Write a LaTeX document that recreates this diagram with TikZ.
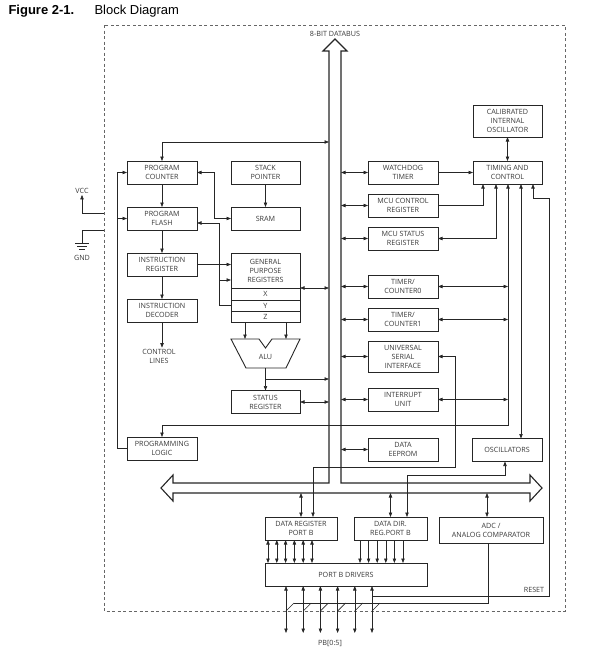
\documentclass[tikz,border=0pt]{standalone}
\usepackage{fontspec}
\setmainfont{Liberation Sans}
\newfontfamily\blkfont{Open Sans}
\usepackage{tikz}
\usetikzlibrary{
  arrows.meta,
  positioning,
  calc
}
\definecolor{inkline}{HTML}{262626}
\definecolor{inktext}{HTML}{3A3A3A}
\definecolor{edgegrey}{HTML}{666666}
\tikzset{
  blk/.style={
    rectangle, draw=inkline, line width=0.9pt, fill=white,
    minimum width=#1, minimum height=23pt, align=center,
    font=\blkfont\fontsize{7.2}{9}\selectfont, text=inktext,
    inner sep=1pt, outer sep=0pt
  },
  blk/.default=70pt,
  lbl/.style={
    font=\blkfont\fontsize{7.2}{9}\selectfont, text=inktext,
    align=center, inner sep=1pt
  },
  wire/.style={draw=inkline, line width=0.6pt},
  onehead/.style={wire, -{Triangle[length=4.5pt,width=3.4pt]}},
  twohead/.style={wire, {Triangle[length=4.5pt,width=3.4pt]}-{Triangle[length=4.5pt,width=3.4pt]}},
  busline/.style={draw=inkline, line width=1.1pt, fill=white, line join=miter},
  chipedge/.style={draw=edgegrey, line width=0.6pt, dash pattern=on 3pt off 2.5pt},
}

\begin{document}
\begin{tikzpicture}[x=1pt, y=-1pt, node distance=23pt]
  \useasboundingbox (0,0) rectangle (591,657);

  %% ── Title ─────────────────────────────────────────────────────────────────
  \node[anchor=base west, font=\fontsize{13}{15}\selectfont\bfseries] (figno) at (5,14) {Figure 2-1.};
  \node[anchor=base west, font=\fontsize{13}{15}\selectfont] (figtitle) at (91,14) {Block Diagram};

  %% ── Chip outline and data bus ─────────────────────────────────────────────
  \draw[chipedge] (104,25) rectangle (565,611);
  \coordinate (busL) at (329,60);
  \coordinate (busR) at (341,60);
  \coordinate (busB) at (300,493);
  \draw[busline] (335,39) -- (347,51) -- (341,51) -- (341,483) -- (530,483) -- (530,475)
    -- (542,488) -- (530,501) -- (530,493) -- (173,493) -- (173,501) -- (161,488)
    -- (173,475) -- (173,483) -- (329,483) -- (329,51) -- (323,51) -- cycle;
  \node[lbl] (buslbl) at (335,34) {8-BIT DATABUS};

  %% ── Program path ──────────────────────────────────────────────────────────
  \node[blk] (pc) at (162,172.5) {PROGRAM\\COUNTER};
  \node[blk, below=of pc]    (flash) {PROGRAM\\FLASH};
  \node[blk, below=of flash] (ireg)  {INSTRUCTION\\REGISTER};
  \node[blk, below=of ireg]  (idec)  {INSTRUCTION\\DECODER};
  \node[lbl] (ctrl) at (159,356) {CONTROL\\LINES};
  \node[blk] (proglog) at (162,448.5) {PROGRAMMING\\LOGIC};

  %% ── Registers and ALU ─────────────────────────────────────────────────────
  \node[blk=69pt] (sp) at (265.5,172.5) {STACK\\POINTER};
  \node[blk=69pt, below=of sp] (sram) {SRAM};
  \node[blk=69pt, minimum height=35pt, below=of sram] (gpr) {GENERAL\\PURPOSE\\REGISTERS};
  \node[blk=69pt, minimum height=12pt, below=0pt of gpr]  (regx) {X};
  \node[blk=69pt, minimum height=11pt, below=0pt of regx] (regy) {Y};
  \node[blk=69pt, minimum height=11pt, below=0pt of regy] (regz) {Z};
  \node[lbl] (alu) at (265.5,357) {ALU};
  \draw[wire, line width=0.9pt] (231,339) -- (259,339) -- (265.5,348) -- (272,339) -- (300,339)
    -- (286,368) -- (246,368) -- cycle;
  \node[blk=69pt] (sreg) at (265.5,402) {STATUS\\REGISTER};

  %% ── Peripherals ───────────────────────────────────────────────────────────
  \node[blk] (wdt) at (403,172.5) {WATCHDOG\\TIMER};
  \node[blk, below=10pt of wdt]   (mcucr)  {MCU CONTROL\\REGISTER};
  \node[blk, below=10pt of mcucr] (mcusr)  {MCU STATUS\\REGISTER};
  \node[blk, below=25pt of mcusr] (tc0)    {TIMER/\\COUNTER0};
  \node[blk, below=10pt of tc0]   (tc1)    {TIMER/\\COUNTER1};
  \node[blk, minimum height=31pt, below=10pt of tc1] (usi) {UNIVERSAL\\SERIAL\\INTERFACE};
  \node[blk, below=16pt of usi]   (irq)    {INTERRUPT\\UNIT};
  \node[blk, below=27pt of irq]   (eeprom) {DATA\\EEPROM};

  \node[blk=69pt] (tctl) at (507.5,172.5) {TIMING AND\\CONTROL};
  \node[blk=69pt, minimum height=32pt, above=24pt of tctl] (cio) {CALIBRATED\\INTERNAL\\OSCILLATOR};
  \node[blk] (osc) at (507,450) {OSCILLATORS};

  %% ── Port B ────────────────────────────────────────────────────────────────
  \node[blk=72pt] (dreg) at (301,528.5) {DATA REGISTER\\PORT B};
  \node[blk=73pt, right=17pt of dreg] (ddir) {DATA DIR.\\REG.PORT B};
  \node[blk=104pt, minimum height=26pt] (adc) at (491,530) {ADC /\\ANALOG COMPARATOR};
  \node[blk=162pt] (drv) at (346,574.5) {PORT B DRIVERS};
  \node[lbl] (reset) at (534,590) {RESET};
  \node[lbl] (pblbl) at (330,643) {PB[0:5]};

  %% ── Supply ────────────────────────────────────────────────────────────────
  \node[lbl] (vcc) at (82,191) {VCC};
  \node[lbl] (gnd) at (82,258) {GND};
  \coordinate (vccpin) at (104,213);
  \coordinate (gndpin) at (104,230);
  \coordinate (gndtop) at (82,243);
  \draw[onehead] (vccpin) -| (vcc.south);
  \draw[wire] (gndpin) -| (gndtop);
  \draw[wire] (gndtop) ++(-7,0) -- ++(14,0) ++(-12,3) -- ++(10,0) ++(-8,3) -- ++(6,0);

  %% ── Arrows ────────────────────────────────────────────────────────────────
  % Program path
  \coordinate (pcbus) at (329,142);
  \draw[twohead] (pc.north) |- (pcbus);
  \draw[onehead] (pc) -- (flash);
  \draw[onehead] (flash) -- (ireg);
  \draw[onehead] (ireg) -- (idec);
  \draw[onehead] (idec) -- (idec.south |- ctrl.north);
  \coordinate (loopturn) at (117,172.5);
  \draw[onehead] (proglog.west) -| (loopturn) -- (pc.west);
  \draw[onehead] (flash.west -| loopturn) -- (flash.west);

  % Registers
  \coordinate (pcsram) at (214,172.5);
  \draw[twohead] (pc.east) -- (pcsram) |- (sram.west);
  \draw[onehead] (sp) -- (sram);
  \coordinate (flashy) at (219,223);
  \coordinate (gprin) at (231,280);
  \draw[onehead] (regy.west) -| (flashy) -- (flashy -| flash.east);
  \draw[onehead] (gprin -| flashy) -- (gprin);
  \draw[onehead] (ireg.east) -- (ireg.east -| gpr.west);
  \draw[twohead] (gpr.south east) -- (gpr.south east -| busL);
  \coordinate (aluinl) at (245,339);
  \coordinate (aluinr) at (286,339);
  \draw[onehead] (regz.south -| aluinl) -- (aluinl);
  \draw[onehead] (regz.south -| aluinr) -- (aluinr);
  \coordinate (aluout) at (265.5,368);
  \coordinate (alutap) at (265.5,379);
  \draw[onehead] (aluout) -- (sreg.north);
  \draw[onehead] (alutap) -- (alutap -| busL);
  \draw[twohead] (sreg.east) -- (sreg.east -| busL);

  % Peripherals on the bus
  \foreach \blk in {wdt,mcucr,mcusr,tc0,tc1,usi,irq,eeprom}
    \draw[twohead] (\blk.west -| busR) -- (\blk.west);

  % Timing and control
  \draw[onehead] (wdt) -- (tctl);
  \draw[twohead] (cio) -- (tctl);
  \draw[onehead] (mcucr.east) -| ([xshift=-24.5pt]tctl.south);
  \draw[twohead] (mcusr.east) -| ([xshift=-11.5pt]tctl.south);
  \coordinate (ctlturn) at (508,425);
  \draw[twohead] (proglog.north) |- (ctlturn) -- (ctlturn |- tctl.south);
  \foreach \blk in {tc0,tc1,irq}
    \draw[twohead] (\blk.east) -- (\blk.east -| ctlturn);
  \draw[twohead] ([xshift=13.5pt]tctl.south) -- ([xshift=13.5pt]tctl.south |- osc.north);
  \coordinate (rstcorner) at (549,198);
  \coordinate (rsttap) at (372,596);
  \draw[onehead] (rsttap) -| (rstcorner) -| ([xshift=25.5pt]tctl.south);

  % Port B
  \coordinate (oscturn) at (505,475);
  \draw[twohead] (osc.south -| oscturn) -- (oscturn) -| ([xshift=16.5pt]ddir.north);
  \coordinate (usiturn) at (455,467);
  \draw[twohead] (usi.east) -| (usiturn) -| ([xshift=12pt]dreg.north);
  \coordinate (adcin) at ([xshift=-4pt]adc.north);
  \coordinate (adcout) at ([xshift=-3pt]adc.south);
  \draw[twohead] (dreg.north |- busB) -- (dreg.north);
  \draw[twohead] (ddir.north |- busB) -- (ddir.north);
  \draw[twohead] (adcin |- busB) -- (adcin);
  \foreach \i in {0,...,5} {
    \draw[twohead] ($(dreg.south west)+(3+8.8*\i,0)$) -- ++(0,23);
    \draw[onehead] ($(ddir.south west)+(6+8.6*\i,0)$) -- ++(0,23);
    \draw[twohead] ($(drv.south west)+(21+17.2*\i,0)$) -- ++(0,47);
    \draw[wire] ($(drv.south west)+(21+17.2*\i,25)$) -- ++(8,-8);
  }
  \draw[wire] (adcout) |- ($(drv.south west)+(29,17)$);

\end{tikzpicture}
\end{document}
